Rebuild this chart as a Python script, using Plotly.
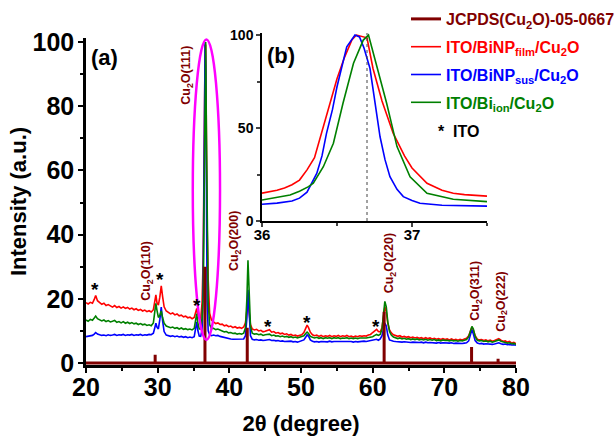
import plotly.graph_objects as go

# ---------------- data ----------------
two_theta = [
    20.0, 20.3, 20.6, 20.9, 21.15, 21.35, 21.6, 21.9, 22.2, 22.5, 22.8, 23.1, 23.4, 23.7,
    24.0, 24.3, 24.6, 24.9, 25.2, 25.5, 25.8, 26.1, 26.4, 26.7, 27.0, 27.3, 27.6, 27.9,
    28.2, 28.5, 28.8, 29.1, 29.4, 29.6, 29.75, 29.9, 30.1, 30.3, 30.5, 30.7, 30.9, 31.2,
    31.5, 31.8, 32.1, 32.4, 32.7, 33.0, 33.3, 33.6, 33.9, 34.2, 34.5, 34.8, 35.1, 35.3,
    35.45, 35.6, 35.8, 36.0, 36.2, 36.35, 36.5, 36.62, 36.7, 36.8, 36.9, 37.05, 37.25, 37.5,
    37.8, 38.1, 38.4, 38.7, 39.0, 39.3, 39.6, 39.9, 40.2, 40.5, 40.8, 41.1, 41.4, 41.7,
    42.0, 42.25, 42.45, 42.6, 42.75, 42.95, 43.2, 43.5, 43.8, 44.1, 44.4, 44.7, 45.0, 45.3,
    45.6, 45.9, 46.2, 46.5, 46.8, 47.1, 47.4, 47.7, 48.0, 48.3, 48.6, 48.9, 49.2, 49.5,
    49.8, 50.1, 50.4, 50.65, 50.85, 51.05, 51.3, 51.6, 51.9, 52.2, 52.5, 52.8, 53.1, 53.4,
    53.7, 54.0, 54.3, 54.6, 54.9, 55.2, 55.5, 55.8, 56.1, 56.4, 56.7, 57.0, 57.3, 57.6,
    57.9, 58.2, 58.5, 58.8, 59.1, 59.4, 59.7, 60.0, 60.3, 60.55, 60.8, 61.05, 61.3, 61.5,
    61.7, 61.9, 62.1, 62.35, 62.6, 62.9, 63.2, 63.5, 63.8, 64.1, 64.4, 64.7, 65.0, 65.3,
    65.6, 65.9, 66.2, 66.5, 66.8, 67.1, 67.4, 67.7, 68.0, 68.3, 68.6, 68.9, 69.2, 69.5,
    69.8, 70.1, 70.4, 70.7, 71.0, 71.3, 71.6, 71.9, 72.2, 72.5, 72.8, 73.1, 73.4, 73.65,
    73.85, 74.05, 74.3, 74.6, 74.9, 75.2, 75.5, 75.8, 76.1, 76.4, 76.7, 77.0, 77.3, 77.6,
    77.9, 78.2, 78.5, 78.8, 79.1, 79.4, 79.7, 80.0,
]

int_film = [
    18.8, 18.4, 18.9, 18.6, 19.8, 21.0, 19.4, 18.7, 18.3, 18.6, 17.9, 18.2, 17.7, 17.4,
    17.9, 17.3, 17.6, 17.1, 17.5, 17.0, 17.3, 16.8, 17.1, 16.6, 16.9, 16.4, 16.7, 16.2,
    16.5, 16.0, 16.3, 15.9, 16.6, 19.5, 21.2, 18.8, 18.0, 20.5, 24.0, 20.5, 17.5, 16.2,
    15.8, 15.3, 15.6, 15.0, 15.3, 14.7, 14.9, 14.4, 14.6, 14.1, 14.3, 13.8, 14.2, 16.0,
    17.0, 15.2, 13.8, 13.6, 19.0, 33.0, 76.0, 99.0, 99.0, 62.0, 43.0, 26.0, 15.5, 13.4,
    12.8, 12.3, 12.5, 12.0, 12.1, 11.6, 11.8, 11.3, 11.5, 11.0, 11.3, 10.9, 11.1, 10.8,
    11.2, 12.5, 16.5, 20.5, 16.0, 12.0, 10.6, 10.3, 10.5, 10.0, 10.2, 9.7, 9.9, 10.2,
    10.4, 9.6, 9.8, 9.3, 9.5, 9.1, 9.3, 8.9, 9.1, 8.7, 8.9, 8.5, 8.7, 8.4,
    8.6, 8.8, 9.5, 10.8, 11.8, 11.0, 9.6, 8.8, 8.5, 8.7, 8.3, 8.6, 8.2, 8.5,
    8.3, 8.6, 8.2, 8.5, 8.3, 8.6, 8.2, 8.5, 8.3, 8.6, 8.2, 8.4, 8.1, 8.4,
    8.2, 8.5, 8.3, 8.5, 8.4, 8.7, 8.9, 9.5, 10.2, 10.5, 9.8, 9.7, 11.0, 14.0,
    17.5, 16.0, 12.5, 10.3, 9.4, 8.8, 8.6, 8.3, 8.5, 8.1, 8.3, 8.0, 8.2, 7.9,
    8.1, 7.8, 8.0, 7.7, 7.9, 7.6, 7.9, 7.6, 7.8, 7.5, 7.7, 7.4, 7.6, 7.3,
    7.6, 7.3, 7.5, 7.2, 7.5, 7.2, 7.4, 7.1, 7.4, 7.2, 7.5, 7.7, 8.5, 10.0,
    11.2, 10.2, 8.5, 7.4, 7.2, 7.3, 7.0, 7.2, 6.9, 7.1, 6.8, 7.0, 7.3, 7.6,
    7.1, 6.8, 6.9, 6.5, 6.7, 6.2, 6.4, 6.0,
]

int_sus = [
    8.2, 8.3, 8.5, 8.6, 9.0, 9.5, 9.0, 8.7, 8.6, 8.7, 8.5, 8.8, 8.6, 8.7,
    8.9, 8.6, 8.8, 8.7, 8.9, 8.6, 8.8, 8.7, 8.9, 8.6, 8.8, 8.7, 8.9, 8.6,
    8.8, 8.7, 8.9, 8.8, 9.3, 11.0, 12.4, 11.2, 10.6, 13.5, 17.4, 13.0, 9.8, 8.7,
    8.5, 8.3, 8.5, 8.2, 8.4, 8.1, 8.3, 8.0, 8.2, 7.9, 8.1, 7.9, 8.2, 10.5,
    12.8, 10.2, 8.4, 8.3, 10.5, 24.0, 72.0, 100.0, 92.0, 42.0, 19.0, 10.0, 8.8, 8.5,
    8.7, 8.5, 8.6, 8.3, 8.1, 7.9, 7.8, 7.6, 7.5, 7.4, 7.4, 7.3, 7.4, 7.3,
    7.5, 8.5, 14.0, 22.8, 14.5, 8.5, 7.4, 7.2, 7.3, 7.1, 7.2, 7.0, 7.1, 7.2,
    7.3, 7.0, 7.1, 6.9, 7.0, 6.8, 6.9, 6.7, 6.8, 6.7, 6.8, 6.6, 6.7, 6.5,
    6.7, 6.8, 7.2, 8.0, 8.8, 8.4, 7.2, 6.8, 6.6, 6.7, 6.5, 6.7, 6.6, 6.7,
    6.6, 6.8, 6.6, 6.7, 6.7, 6.8, 6.6, 6.8, 6.6, 6.7, 6.6, 6.7, 6.5, 6.7,
    6.6, 6.7, 6.6, 6.8, 6.7, 6.8, 6.9, 7.0, 7.2, 7.4, 7.1, 7.5, 8.5, 10.5,
    12.4, 11.5, 8.8, 7.2, 6.9, 6.8, 6.7, 6.6, 6.7, 6.5, 6.6, 6.5, 6.6, 6.4,
    6.5, 6.4, 6.5, 6.4, 6.5, 6.3, 6.5, 6.3, 6.4, 6.3, 6.4, 6.2, 6.4, 6.2,
    6.3, 6.2, 6.3, 6.2, 6.3, 6.1, 6.2, 6.1, 6.2, 6.1, 6.2, 6.3, 6.9, 8.8,
    10.4, 9.0, 7.0, 6.2, 6.0, 6.1, 5.9, 6.0, 5.9, 6.0, 5.8, 5.9, 6.1, 6.3,
    6.0, 5.8, 5.9, 5.7, 5.8, 5.6, 5.7, 5.5,
]

int_ion = [
    13.4, 13.0, 13.6, 13.3, 14.0, 14.6, 13.8, 13.5, 13.1, 13.4, 12.9, 13.2, 12.8, 13.0,
    13.3, 12.7, 12.9, 12.5, 12.9, 12.4, 12.7, 12.3, 12.6, 12.2, 12.4, 12.0, 12.3, 11.9,
    12.1, 11.7, 11.9, 11.6, 12.5, 16.0, 18.6, 16.5, 14.2, 14.8, 16.2, 14.0, 12.4, 11.5,
    11.3, 11.0, 11.2, 10.8, 11.0, 10.6, 10.9, 10.5, 10.7, 10.4, 10.6, 10.3, 10.8, 13.5,
    15.4, 12.6, 10.6, 10.6, 14.0, 21.0, 52.0, 86.0, 100.0, 72.0, 40.0, 19.0, 12.0, 10.8,
    10.8, 10.4, 10.6, 10.2, 10.0, 9.7, 9.8, 9.4, 9.5, 9.2, 9.3, 9.0, 9.2, 9.0,
    9.3, 11.0, 20.0, 32.0, 20.0, 11.5, 9.3, 9.0, 9.1, 8.8, 9.0, 8.6, 8.8, 8.9,
    9.0, 8.5, 8.7, 8.4, 8.5, 8.2, 8.4, 8.1, 8.3, 8.0, 8.2, 7.9, 8.1, 7.8,
    8.0, 8.1, 8.5, 9.2, 9.6, 9.2, 8.3, 8.0, 7.8, 8.0, 7.7, 7.9, 7.6, 7.9,
    7.7, 7.9, 7.6, 7.9, 7.7, 7.9, 7.6, 7.8, 7.7, 7.9, 7.6, 7.8, 7.6, 7.8,
    7.6, 7.8, 7.7, 7.8, 7.8, 7.9, 8.0, 8.2, 8.6, 8.9, 8.6, 8.9, 10.5, 15.0,
    19.2, 17.5, 13.0, 9.8, 8.7, 8.1, 7.8, 7.6, 7.8, 7.5, 7.7, 7.4, 7.6, 7.3,
    7.5, 7.3, 7.5, 7.2, 7.4, 7.2, 7.4, 7.1, 7.3, 7.1, 7.3, 7.0, 7.2, 6.9,
    7.2, 7.0, 7.1, 6.9, 7.1, 6.9, 7.0, 6.8, 7.0, 6.9, 7.1, 7.3, 8.2, 10.0,
    11.4, 10.6, 8.3, 7.1, 6.9, 7.0, 6.7, 6.9, 6.6, 6.8, 6.5, 6.7, 7.0, 7.2,
    6.8, 6.5, 6.4, 6.2, 6.3, 6.0, 6.1, 5.8,
]

# JCPDS(Cu2O) 05-0667 reference sticks
jcpds_pos = [29.65, 36.6, 42.5, 61.6, 73.8, 77.5]
jcpds_int = [2.6, 30.0, 11.0, 16.0, 5.0, 1.3]
hkl_labels = ["(110)", "(111)", "(200)", "(220)", "(311)", "(222)"]
hkl_label_x = [28.5, 34.1, 40.8, 62.4, 74.5, 78.0]
hkl_label_y = [28.7, 89.5, 38.0, 31.0, 22.4, 19.0]

# ITO reflections (marked with *)
ito_x = [21.2, 30.3, 35.45, 45.4, 50.8, 60.5]
ito_y = [24.0, 27.4, 19.1, 12.6, 14.0, 12.6]

# Inset (b): zoom on the (111) reflection
inset_film_x = [36.0, 36.05, 36.1, 36.15, 36.2, 36.25, 36.3, 36.35, 36.4, 36.45, 36.5, 36.55,
                36.6, 36.63, 36.67, 36.7, 36.74, 36.8, 36.875, 36.95, 37.0, 37.1, 37.2,
                37.275, 37.35, 37.5]
inset_film_y = [15.0, 15.6, 16.5, 17.8, 19.5, 22.0, 27.5, 34.0, 48.0, 63.0, 76.5, 88.0,
                97.5, 100.0, 99.0, 98.5, 82.0, 64.5, 47.1, 35.0, 28.5, 20.3, 16.5,
                14.9, 14.2, 13.4]
inset_sus_x = [36.0, 36.1, 36.2, 36.25, 36.3, 36.32, 36.365, 36.4, 36.43, 36.47, 36.5, 36.565,
               36.62, 36.65, 36.68, 36.72, 36.75, 36.787, 36.82, 36.853, 36.9, 36.942, 37.0,
               37.053, 37.2, 37.5]
inset_sus_y = [9.0, 9.6, 10.8, 12.3, 15.5, 18.5, 25.6, 35.0, 47.1, 60.0, 72.2, 93.7,
               100.0, 99.0, 93.0, 82.0, 65.0, 45.3, 33.0, 23.8, 17.0, 13.1, 11.0,
               9.5, 8.5, 8.0]
inset_ion_x = [36.0, 36.1, 36.187, 36.25, 36.31, 36.342, 36.409, 36.476, 36.54, 36.61, 36.675,
               36.71, 36.765, 36.831, 36.9, 36.987, 37.1, 37.275, 37.5]
inset_ion_y = [11.3, 12.8, 14.0, 16.0, 18.5, 20.3, 29.2, 41.8, 63.3, 84.8, 97.3,
               100.0, 83.0, 63.3, 40.0, 23.8, 14.9, 11.7, 10.4]
ref_111_line = 36.70

assert len(two_theta) == len(int_film) == len(int_sus) == len(int_ion)

# ---------------- style ----------------
FONT = "Arial, 'Liberation Sans', sans-serif"
C_REF = "#800000"
C_FILM = "#FF0000"
C_SUS = "#0000FF"
C_ION = "#008000"

fig = go.Figure()

def colored(txt, c):
    return f'<span style="color:{c}">{txt}</span>'

fig.add_trace(go.Scatter(x=two_theta, y=int_film, mode="lines",
                         line=dict(color=C_FILM, width=1.6), legendrank=2, legendgroup="film",
                         name=colored("ITO/BiNP<sub>film</sub>/Cu<sub>2</sub>O", C_FILM)))
fig.add_trace(go.Scatter(x=two_theta, y=int_sus, mode="lines",
                         line=dict(color=C_SUS, width=1.6), legendrank=3, legendgroup="sus",
                         name=colored("ITO/BiNP<sub>sus</sub>/Cu<sub>2</sub>O", C_SUS)))
fig.add_trace(go.Scatter(x=two_theta, y=int_ion, mode="lines",
                         line=dict(color=C_ION, width=1.6), legendrank=4, legendgroup="ion",
                         name=colored("ITO/Bi<sub>ion</sub>/Cu<sub>2</sub>O", C_ION)))

# stick pattern built from the JCPDS arrays
sx, sy = [20.0], [0.0]
for p, h in zip(jcpds_pos, jcpds_int):
    sx += [p, p, p]
    sy += [0.0, h, 0.0]
sx.append(80.0)
sy.append(0.0)
fig.add_trace(go.Scatter(x=sx, y=sy, mode="lines", line=dict(color=C_REF, width=3),
                         legendrank=1, legendgroup="ref", cliponaxis=False,
                         name=colored("JCPDS(Cu<sub>2</sub>O)-05-0667", C_REF)))

# inset traces
for xs, ys, c in [(inset_film_x, inset_film_y, C_FILM),
                  (inset_sus_x, inset_sus_y, C_SUS),
                  (inset_ion_x, inset_ion_y, C_ION)]:
    fig.add_trace(go.Scatter(x=xs, y=ys, mode="lines", line=dict(color=c, width=1.6),
                             xaxis="x2", yaxis="y2", showlegend=False))

# ---------------- layout ----------------
L, R, T, B = 86, 99, 30, 71
W, H = 615, 436
PW, PH = W - L - R, H - T - B

def px2paper_x(px):
    return (px - L) / PW

def px2paper_y(py):
    return (H - B - py) / PH

main_axis = dict(showline=True, linecolor="black", linewidth=2.5, mirror=False,
                 showgrid=False, zeroline=False, ticks="outside", ticklen=5, tickwidth=2,
                 tickcolor="black", automargin=False,
                 tickfont=dict(family=FONT, size=25, color="black", weight="bold"))

fig.update_layout(
    width=W, height=H,
    margin=dict(l=L, r=R, t=T, b=B, autoexpand=False),
    paper_bgcolor="white", plot_bgcolor="rgba(0,0,0,0)",
    font=dict(family=FONT, color="black"),
    xaxis=dict(**main_axis, range=[20, 80], dtick=10, tick0=20, ticklabelstandoff=-7,
               minor=dict(dtick=5, ticks="outside", ticklen=3, tickwidth=2, tickcolor="black"),
               title=dict(text="2θ (degree)", standoff=22,
                          font=dict(family=FONT, size=22, weight="bold"))),
    yaxis=dict(**main_axis, range=[-0.62, 101.25], dtick=20, tick0=0, ticklabelstandoff=-1,
               domain=[0, px2paper_y(38)],
               minor=dict(dtick=10, ticks="outside", ticklen=3, tickwidth=2, tickcolor="black"),
               title=dict(text="Intensity (a.u.)", standoff=0,
                          font=dict(family=FONT, size=22, weight="bold"))),
    xaxis2=dict(domain=[px2paper_x(262), px2paper_x(487)], anchor="y2", range=[36, 37.5],
                tickvals=[36, 37], showline=True, linecolor="black", linewidth=1.5,
                showgrid=False, zeroline=False, ticks="outside", ticklen=4, tickwidth=1.5,
                automargin=False, ticklabelstandoff=-5,
                minor=dict(tickvals=[36.5, 37.5], ticks="outside", ticklen=3, tickwidth=1.5),
                tickfont=dict(family=FONT, size=15, weight="bold")),
    yaxis2=dict(domain=[px2paper_y(221), px2paper_y(33)], anchor="x2", range=[0, 101.1],
                tickvals=[0, 50, 100], showline=True, linecolor="black", linewidth=1.5,
                showgrid=False, zeroline=False, ticks="outside", ticklen=4, tickwidth=1.5,
                automargin=False,
                minor=dict(tickvals=[25, 75], ticks="outside", ticklen=3, tickwidth=1.5),
                tickfont=dict(family=FONT, size=14, weight="bold")),
    legend=dict(x=px2paper_x(406), y=px2paper_y(2), xanchor="left", yanchor="top",
                bgcolor="rgba(0,0,0,0)", borderwidth=0, itemwidth=30,
                font=dict(family=FONT, size=16, weight="bold"), tracegroupgap=4),
    showlegend=True,
)

# magenta ellipse around the (111) peak
fig.add_shape(type="circle", xref="x", yref="y", x0=34.9, x1=38.7, y0=7.2, y1=100.8,
              line=dict(color="#FF00FF", width=2.5))
# dotted reference line in inset
fig.add_shape(type="line", xref="x2", yref="y2", x0=ref_111_line, x1=ref_111_line,
              y0=0, y1=101.1, line=dict(color="#444444", width=1, dash="dot"))

# hkl labels
for lab, lx, ly in zip(hkl_labels, hkl_label_x, hkl_label_y):
    fig.add_annotation(x=lx, y=ly, xref="x", yref="y", text=f"Cu<sub>2</sub>O{lab}",
                       textangle=-90, showarrow=False, xanchor="center", yanchor="middle",
                       font=dict(family=FONT, size=12.5, color=C_REF, weight="bold"))
# ITO stars
for sx_, sy_ in zip(ito_x, ito_y):
    fig.add_annotation(x=sx_, y=sy_, xref="x", yref="y", text="*", showarrow=False,
                       xanchor="center", yanchor="middle", yshift=-4,
                       font=dict(family=FONT, size=19, color="black", weight="bold"))

# panel labels and ITO legend note
fig.add_annotation(x=px2paper_x(104), y=px2paper_y(57), xref="paper", yref="paper",
                   text="(a)", showarrow=False, xanchor="center", yanchor="middle",
                   font=dict(family=FONT, size=22, color="black", weight="bold"))
fig.add_annotation(x=px2paper_x(281), y=px2paper_y(55), xref="paper", yref="paper",
                   text="(b)", showarrow=False, xanchor="center", yanchor="middle",
                   font=dict(family=FONT, size=22, color="black", weight="bold"))
fig.add_annotation(x=px2paper_x(436), y=px2paper_y(131), xref="paper", yref="paper",
                   xanchor="left", yanchor="middle", text="*  ITO", showarrow=False,
                   font=dict(family=FONT, size=16, color="black", weight="bold"))

fig.write_html("out.html", config={"displayModeBar": False},
               post_script="document.body.style.margin='0px';")
